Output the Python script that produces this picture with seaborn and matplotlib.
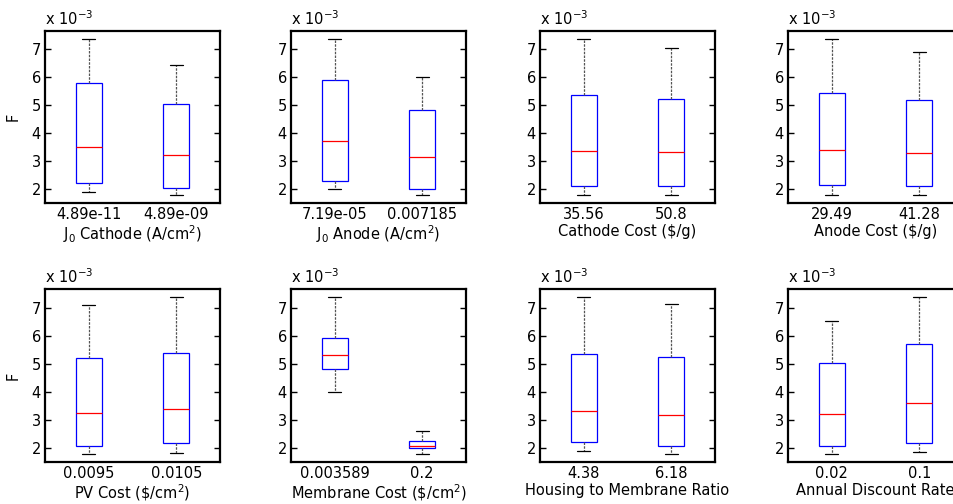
import matplotlib
matplotlib.use("Agg")
import matplotlib.pyplot as plt
import matplotlib.ticker as mticker
import numpy as np
import pandas as pd
import seaborn as sns

# five-number summaries per box (x 1e-3): low whisker, q1, median, q3, high whisker
labels = [r'J$_0$ Cathode (A/cm$^2$)', r'J$_0$ Anode (A/cm$^2$)', 'Cathode Cost ($/g)',
          'Anode Cost ($/g)', r'PV Cost (\$/cm$^2$)', r'Membrane Cost (\$/cm$^2$)',
          'Housing to Membrane Ratio', 'Annual Discount Rate']
levels = [['4.89e-11', '4.89e-09'], ['7.19e-05', '0.007185'], ['35.56', '50.8'],
          ['29.49', '41.28'], ['0.0095', '0.0105'], ['0.003589', '0.2'],
          ['4.38', '6.18'], ['0.02', '0.1']]
low_box = [[1.90, 2.23, 3.51, 5.77, 7.37], [2.00, 2.27, 3.73, 5.89, 7.37],
           [1.77, 2.10, 3.37, 5.36, 7.37], [1.77, 2.13, 3.40, 5.42, 7.37],
           [1.79, 2.07, 3.26, 5.22, 7.11], [4.02, 4.84, 5.31, 5.94, 7.39],
           [1.91, 2.22, 3.33, 5.37, 7.40], [1.79, 2.07, 3.22, 5.03, 6.53]]
high_box = [[1.79, 2.02, 3.20, 5.04, 6.43], [1.77, 2.00, 3.13, 4.83, 6.01],
            [1.77, 2.10, 3.31, 5.20, 7.04], [1.77, 2.10, 3.29, 5.18, 6.89],
            [1.82, 2.19, 3.39, 5.40, 7.40], [1.80, 2.00, 2.09, 2.27, 2.63],
            [1.79, 2.07, 3.20, 5.26, 7.15], [1.88, 2.20, 3.60, 5.72, 7.40]]

sns.set_style("white")
plt.rcParams['font.family'] = ['DejaVu Sans']
plt.rcParams['font.size'] = 10.5
plt.rcParams['text.color'] = 'black'
plt.rcParams['axes.labelcolor'] = 'black'

fs = 10.5
fig = plt.figure(figsize=(9.54, 5.04), dpi=100)
W, H = 954.0, 504.0
lefts = [45, 291, 540, 788]
rows = [(31, 203, (1.5, 7.64)), (289, 462, (1.51, 7.68))]

for i in range(8):
    r, c = divmod(i, 4)
    top, bot, ylim = rows[r]
    ax = fig.add_axes([lefts[c] / W, (H - bot) / H, 175 / W, (bot - top) / H])

    df = pd.DataFrame({
        'level': [levels[i][0]] * 5 + [levels[i][1]] * 5,
        'F': np.array(low_box[i] + high_box[i]) * 1e-3,
    })
    sns.boxplot(data=df, x='level', y='F', order=levels[i], ax=ax,
                whis=(0, 100), width=0.3, color='white', linecolor='black',
                linewidth=0.9, saturation=1,
                boxprops={'edgecolor': 'blue', 'facecolor': 'white'},
                medianprops={'color': 'red'},
                whiskerprops={'color': '#555555', 'linestyle': (0, (2, 1))},
                capprops={'color': 'black'})

    ax.set_xlim(-0.5, 1.5)
    ax.set_ylim(ylim[0] * 1e-3, ylim[1] * 1e-3)
    ax.set_yticks(np.arange(2, 8) * 1e-3)
    ax.yaxis.set_major_formatter(mticker.FuncFormatter(lambda v, _: f"{v * 1e3:.0f}"))
    ax.tick_params(axis='y', direction='in', left=True, right=True, length=4,
                   width=1, pad=3, labelsize=fs, colors='black')
    ax.tick_params(axis='x', length=0, pad=3, labelsize=fs, colors='black')
    for sp in ax.spines.values():
        sp.set_color('black')
        sp.set_linewidth(1.6)
    ax.set_xlabel(labels[i], fontsize=fs, labelpad=1, color='black')
    if c == 0:
        ax.set_ylabel('F', fontsize=fs, color='black')
        ax.yaxis.set_label_coords(-0.137, 0.5)
    else:
        ax.set_ylabel('')
    ax.text(0, 1.035, r'x 10$^{-3}$', transform=ax.transAxes, fontsize=fs,
            ha='left', va='baseline', color='black')

fig.savefig('out.png', dpi=100, facecolor='white')
